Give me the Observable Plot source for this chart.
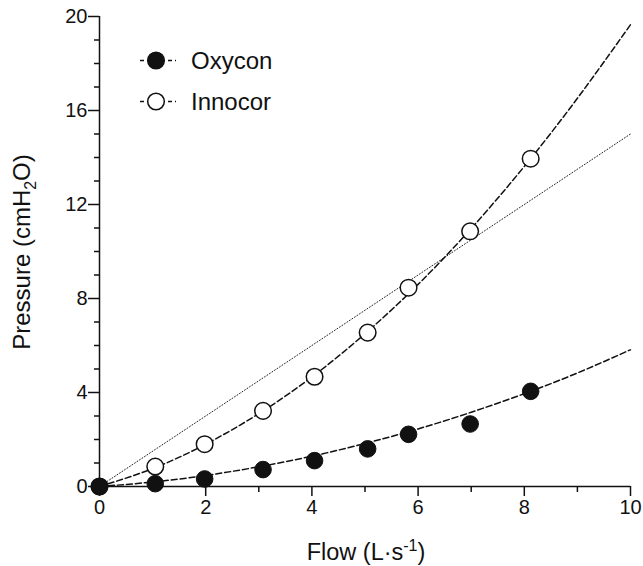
<!DOCTYPE html>
<html>
<head>
<meta charset="utf-8">
<script src="https://cdn.jsdelivr.net/npm/d3@7"></script>
<script src="https://cdn.jsdelivr.net/npm/@observablehq/plot@0.6"></script>
<style>
  html, body { margin: 0; padding: 0; background: #fff; }
  #chart svg { font-family: "Liberation Sans", Arial, Helvetica, sans-serif; }
</style>
</head>
<body>
<div id="chart"></div>
<script>
// Measured points
const flow = [0, 1.05, 1.98, 3.08, 4.05, 5.05, 5.82, 6.98, 8.12];
const oxycon = [0, 0.12, 0.32, 0.72, 1.1, 1.6, 2.22, 2.66, 4.05];
const innocor = [0, 0.85, 1.8, 3.22, 4.67, 6.55, 8.46, 10.86, 13.95];

// Fitted curves
const curveX = [0, 1, 2, 3, 4, 5, 6, 7, 8, 9, 10];
const oxyconFit = [0, 0.19, 0.47, 0.84, 1.29, 1.83, 2.45, 3.16, 3.95, 4.83, 5.82];
const innocorFit = [0, 0.76, 1.8, 3.1, 4.66, 6.5, 8.6, 10.98, 13.62, 16.52, 19.65];

// Dotted line
const lineX = [0, 10];
const lineY = [0, 15];

const xMajor = [0, 2, 4, 6, 8, 10];
const xMinor = [1, 3, 5, 7, 9];
const yMajor = [0, 4, 8, 12, 16, 20];
const yMinor = [1, 2, 3, 5, 6, 7, 9, 10, 11, 13, 14, 15, 17, 18, 19];

const legendLabels = ["Oxycon", "Innocor"];
const legendFills = ["#111", "#fff"];

const pts = (xs, ys) => xs.map((x, i) => ({x, y: ys[i]}));

const W = 643, H = 566;
const mL = 99, mR = 13, mT = 16, mB = 80;

const plot = Plot.plot({
  width: W, height: H,
  marginLeft: mL, marginRight: mR, marginTop: mT, marginBottom: mB,
  style: {fontSize: "20px", fontFamily: "Liberation Sans, Arial, sans-serif", color: "#111", background: "#fff"},
  x: {domain: [0, 10]},
  y: {domain: [0, 20]},
  marks: [
    Plot.axisX({ticks: xMajor, tickSize: 10, tickPadding: 3, label: null, tickFormat: d => d, stroke: "#111", strokeWidth: 1.5}),
    Plot.axisX({ticks: xMinor, tickSize: 6, label: null, tickFormat: () => "", stroke: "#111", strokeWidth: 1.5}),
    Plot.axisY({ticks: yMajor, tickSize: 11, tickPadding: 1, label: null, tickFormat: d => d, stroke: "#111", strokeWidth: 1.5}),
    Plot.axisY({ticks: yMinor, tickSize: 5, label: null, tickFormat: () => "", stroke: "#111", strokeWidth: 1.5}),
    Plot.ruleX([0], {y1: 0, y2: 20, stroke: "#111", strokeWidth: 1.5}),
    Plot.ruleY([0], {x1: 0, x2: 10, stroke: "#111", strokeWidth: 1.5}),
    Plot.line(pts(lineX, lineY), {x: "x", y: "y", stroke: "#222", strokeWidth: 1, strokeDasharray: "1,2"}),
    Plot.line(pts(curveX, innocorFit), {x: "x", y: "y", stroke: "#111", strokeWidth: 1.5, strokeDasharray: "6,3", curve: "natural"}),
    Plot.line(pts(curveX, oxyconFit), {x: "x", y: "y", stroke: "#111", strokeWidth: 1.5, strokeDasharray: "6,3", curve: "natural"}),
    Plot.dot(pts(flow, innocor), {x: "x", y: "y", r: 8.3, fill: "#fff", stroke: "#111", strokeWidth: 1.5}),
    Plot.dot(pts(flow, oxycon), {x: "x", y: "y", r: 8.3, fill: "#111", stroke: "#111", strokeWidth: 1})
  ]
});

document.getElementById("chart").appendChild(plot);

const svg = d3.select(plot);
const fam = "Liberation Sans, Arial, sans-serif";

// Y axis title with subscript
const yt = svg.append("text")
  .attr("transform", `translate(30, 252) rotate(-90)`)
  .attr("text-anchor", "middle")
  .attr("font-family", fam).attr("font-size", 24).attr("fill", "#111");
yt.append("tspan").text("Pressure (cmH");
yt.append("tspan").attr("font-size", 16).attr("dy", 6).text("2");
yt.append("tspan").attr("dy", -6).text("O)");

// X axis title with superscript
const xt = svg.append("text")
  .attr("x", 366).attr("y", 560)
  .attr("text-anchor", "middle")
  .attr("font-family", fam).attr("font-size", 23.5).attr("fill", "#111");
xt.append("tspan").text("Flow (L·s");
xt.append("tspan").attr("font-size", 16).attr("dy", -9).text("-1");
xt.append("tspan").attr("dy", 9).text(")");

// Legend
legendLabels.forEach((label, i) => {
  const cy = 60.5 + i * 41;
  const g = svg.append("g");
  g.append("line").attr("x1", 140).attr("x2", 176).attr("y1", cy).attr("y2", cy)
    .attr("stroke", "#111").attr("stroke-width", 1.5).attr("stroke-dasharray", "4,3");
  g.append("circle").attr("cx", 156).attr("cy", cy).attr("r", 8.3)
    .attr("fill", legendFills[i]).attr("stroke", "#111").attr("stroke-width", 1.5);
  g.append("text").attr("x", 191).attr("y", cy).attr("dy", "0.36em")
    .attr("text-anchor", "start")
    .attr("font-family", fam).attr("font-size", 24).attr("fill", "#111").text(label);
});
</script>
</body>
</html>
